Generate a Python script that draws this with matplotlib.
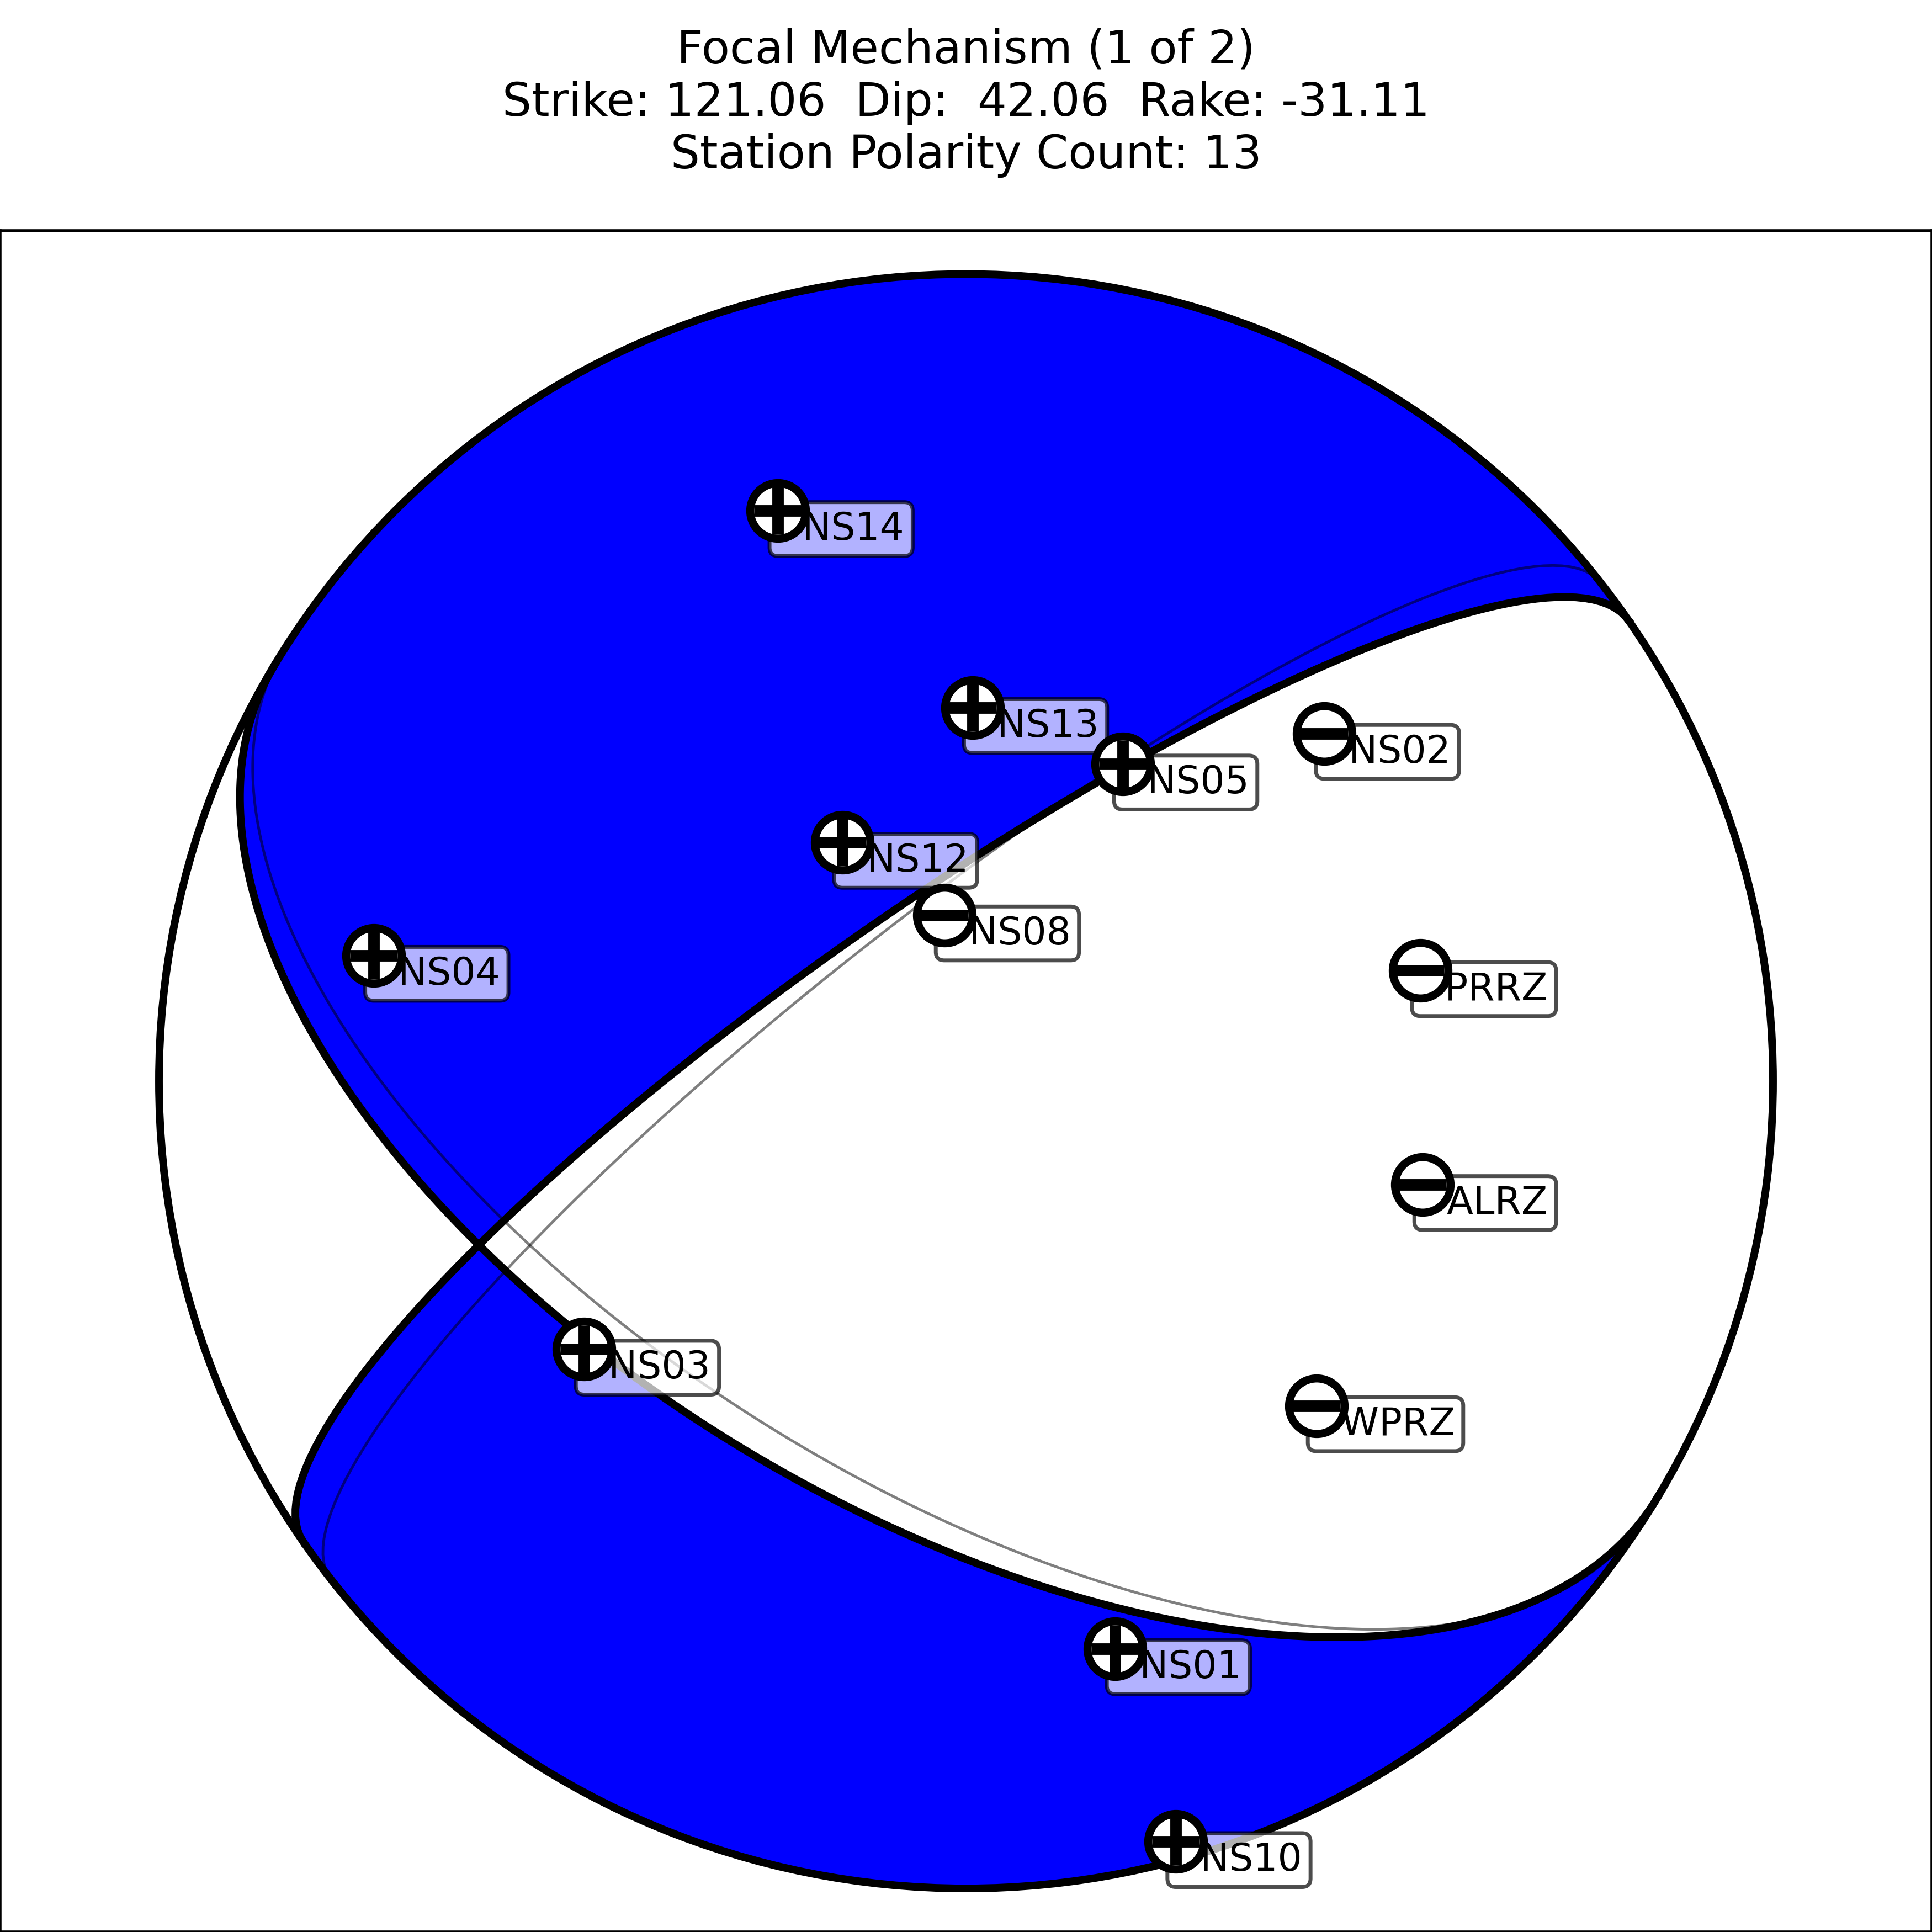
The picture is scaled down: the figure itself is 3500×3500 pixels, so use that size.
import numpy as np
import matplotlib
matplotlib.use("Agg")
import matplotlib.pyplot as plt
from matplotlib.path import Path
from matplotlib.patches import PathPatch, Circle

# solution shown, and the other accepted solution (drawn faintly)
solution_no, solution_count = 1, 2
strike, dip, rake = 121.06, 42.06, -31.11
alt_strike, alt_dip, alt_rake = 122.5, 45.7, -26.7

# station polarities, positions on the projected sphere (unit radius)
stations = ["NS14", "NS13", "NS05", "NS02", "NS12", "NS08", "NS04",
            "PRRZ", "ALRZ", "NS03", "WPRZ", "NS01", "NS10"]
polarity = [1, 1, 1, -1, 1, -1, 1, -1, -1, 1, -1, 1, 1]
sta_x = [-0.233, 0.008, 0.194, 0.444, -0.153, -0.027, -0.734,
         0.563, 0.566, -0.473, 0.434, 0.185, 0.260]
sta_y = [0.707, 0.463, 0.393, 0.431, 0.296, 0.206, 0.156,
         0.137, -0.128, -0.332, -0.402, -0.703, -0.942]


def aux_plane(s, d, r):
    s, d, r = np.radians([s, d, r])
    # slip vector (north, east, down) = normal of the auxiliary plane
    n = np.array([np.cos(r) * np.cos(s) + np.cos(d) * np.sin(r) * np.sin(s),
                  np.cos(r) * np.sin(s) - np.cos(d) * np.sin(r) * np.cos(s),
                  -np.sin(r) * np.sin(d)])
    if n[2] > 0:
        n = -n
    d2 = np.degrees(np.arccos(-n[2]))
    s2 = np.degrees(np.arctan2(-n[0], n[1])) % 360
    return s2, d2


def nodal_curve(s, d, n=400):
    # obspy-style nodal line: half ellipse from strike to strike+180
    b = (90.0 - min(d, 89.9999)) / 90.0
    phi = np.linspace(0, np.pi, n)
    r = b / np.sqrt(np.sin(phi) ** 2 + (b * np.cos(phi)) ** 2)
    th = np.radians(s) + phi
    return r * np.sin(th), r * np.cos(th)


def dip_side(s, d):
    x, y = nodal_curve(s, d)
    th = np.radians(np.linspace(s + 180, s, 400))
    px = np.concatenate([x, np.sin(th)])
    py = np.concatenate([y, np.cos(th)])
    return px, py


def signed_area(x, y):
    return 0.5 * np.sum(x * np.roll(y, -1) - np.roll(x, -1) * y)


planes = [(strike, dip), aux_plane(strike, dip, rake)]
alt_planes = [(alt_strike, alt_dip), aux_plane(alt_strike, alt_dip, alt_rake)]

fig = plt.figure(figsize=(7, 7), dpi=500)
ax = fig.add_axes([0, 0, 1, 0.8807])
ax.set_xlim(-1.197, 1.197)
ax.set_ylim(-1.054, 1.054)
ax.set_xticks([])
ax.set_yticks([])

ax.add_patch(Circle((0, 0), 1, facecolor="white", edgecolor="none", zorder=1))

# compressional quadrants = symmetric difference of the two dip-side regions
verts, codes = [], []
for i, (s, d) in enumerate(planes):
    px, py = dip_side(s, d)
    a = signed_area(px, py)
    if (i == 0 and a < 0) or (i == 1 and a > 0):
        px, py = px[::-1], py[::-1]
    pts = np.column_stack([px, py])
    verts += list(pts) + [pts[0]]
    codes += [Path.MOVETO] + [Path.LINETO] * (len(pts) - 1) + [Path.CLOSEPOLY]
ax.add_patch(PathPatch(Path(verts, codes), facecolor="blue", edgecolor="none",
                       zorder=2))

for s, d in planes:
    x, y = nodal_curve(s, d)
    ax.plot(x, y, color="black", lw=2, zorder=3)
for s, d in alt_planes:
    x, y = nodal_curve(s, d)
    ax.plot(x, y, color="black", alpha=0.5, lw=0.7, zorder=3)
ax.add_patch(Circle((0, 0), 1, facecolor="none", edgecolor="black", lw=2,
                    zorder=3))

for name, x, y in zip(stations, sta_x, sta_y):
    ax.text(x, y, "  " + name, fontsize=10, ha="left", va="top", zorder=5,
            bbox=dict(boxstyle="round,pad=0.22", fc="white", ec="black",
                      alpha=0.7, lw=1))
for p, x, y in zip(polarity, sta_x, sta_y):
    ax.plot(x, y, "o", ms=14.5, mfc="white", mec="black", mew=2.1, zorder=6)
    ax.plot(x, y, "+" if p > 0 else "_", ms=12.5, mew=3, color="black", zorder=7)

title = (f"Focal Mechanism ({solution_no} of {solution_count})\n"
         f"Strike: {strike:6.2f}  Dip: {dip:6.2f}  Rake: {rake:6.2f}\n"
         f"Station Polarity Count: {len(stations)}")
fig.text(0.5, 0.9855, title, ha="center", va="top", fontsize=12,
         linespacing=1.22)

fig.savefig("out.png", dpi=500)
